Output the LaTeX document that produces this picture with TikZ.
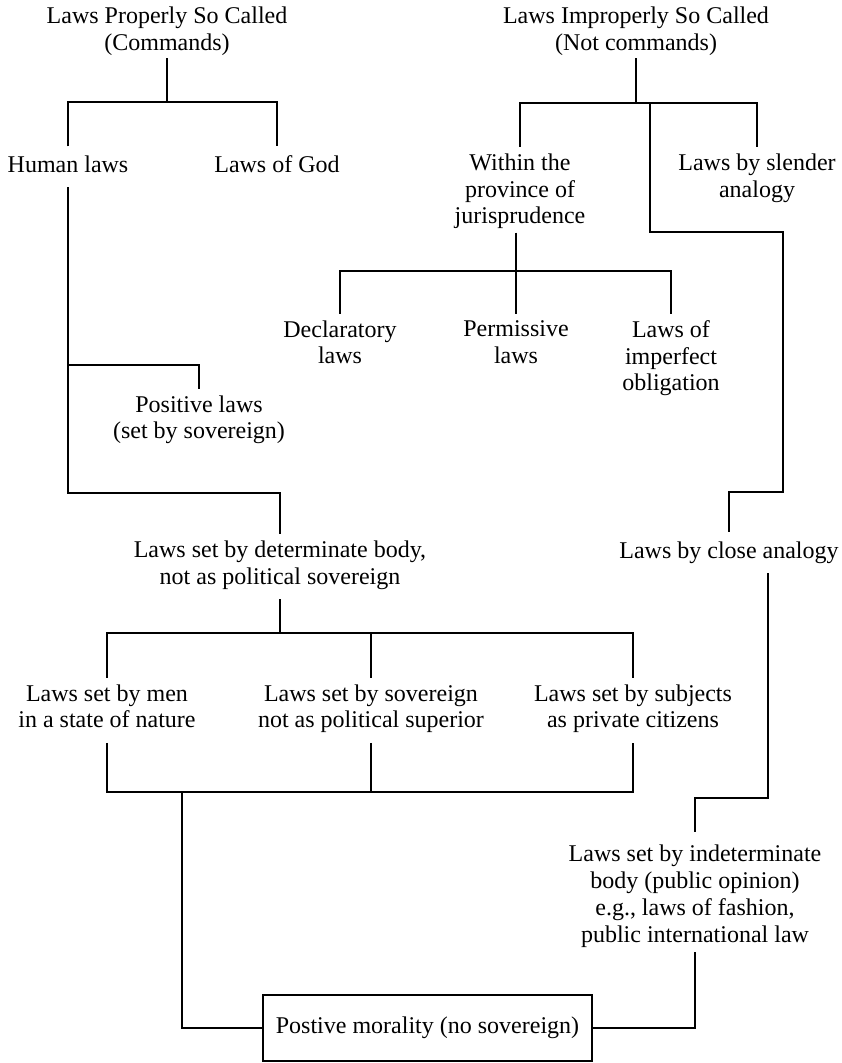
\documentclass[tikz,border=0pt]{standalone}
\usepackage{fontspec}
\setmainfont{Liberation Serif}
\begin{document}
\begin{tikzpicture}[x=1pt,y=-1pt,line width=1.2pt,
  lbl/.style={align=center,inner sep=0pt,outer xsep=0pt,outer ysep=7pt,
    font=\fontsize{24}{26.7}\selectfont,
    execute at begin node=\strut,execute at end node=\strut},
  boxnode/.style={lbl,draw,outer sep=0pt,minimum width=329pt,minimum height=66pt}]
\useasboundingbox (0,0) rectangle (841,1063);
% nodes
\node[lbl,outer ysep=0pt] (psc) at (167,32.7) {Laws Properly So Called\\(Commands)};
\node[lbl,outer ysep=0pt] (isc) at (636,32.7) {Laws Improperly So Called\\(Not commands)};
\node[lbl] (hl)  at (68,166.7)  {Human laws};
\node[lbl] (lg)  at (277,166.7) {Laws of God};
\node[lbl] (wj)  at (520,192.7) {Within the\\province of\\jurisprudence};
\node[lbl] (lsa) at (757,179.7) {Laws by slender\\analogy};
\node[lbl] (dl)  at (340,346.2) {Declaratory\\laws};
\node[lbl] (pl)  at (516,346.2) {Permissive\\laws};
\node[lbl] (lio) at (671,359.7) {Laws of\\imperfect\\obligation};
\node[lbl] (pos) at (199,421.2) {Positive laws\\(set by sovereign)};
\node[lbl] (db)  at (280,566.7) {Laws set by determinate body,\\not as political sovereign};
\node[lbl] (ca)  at (729,552.7) {Laws by close analogy};
\node[lbl] (men) at (107,710.2) {Laws set by men\\in a state of nature};
\node[lbl] (sov) at (371,710.2) {Laws set by sovereign\\not as political superior};
\node[lbl] (sub) at (633,710.2) {Laws set by subjects\\as private citizens};
\node[lbl] (ind) at (695,897.7) {Laws set by indeterminate\\body (public opinion)\\e.g., laws of fashion,\\public international law};
\node[boxnode] (pm) at (427.5,1028) {Postive morality (no sovereign)};
% junction coordinates
\coordinate (b1) at (167,102);
\coordinate (b2) at (636,103);
\coordinate (r1) at (650,103);
\coordinate (r2) at (783,232);
\coordinate (r3) at (783,492);
\coordinate (b3) at (516,271);
\coordinate (h1) at (68,365);
\coordinate (h2) at (68,493);
\coordinate (b4) at (280,633);
\coordinate (b5) at (182,792);
\coordinate (c1) at (768,798);
% connectors
\draw (psc.south) -- (b1);
\draw (hl.north) |- (lg.north |- b1) -- (lg.north);
\draw (isc.south) -- (b2);
\draw (wj.north) |- (lsa.north |- b2) -- (lsa.north);
\draw (r1) |- (r2) -- (r3) -| (ca.north);
\draw[shorten <=-6pt] (pl.north |- wj.south) -- (pl.north);
\draw (dl.north) |- (lio.north |- b3) -- (lio.north);
\draw (hl.south) -- (h2) -| (db.north);
\draw (h1) -| (pos.north);
\draw (db.south) -- (b4);
\draw (men.north) |- (sub.north |- b4) -- (sub.north);
\draw (sov.north) -- (sov.north |- b4);
\draw (men.south) |- (sub.south |- b5) -- (sub.south);
\draw (sov.south) -- (sov.south |- b5);
\draw (b5) |- (pm.west);
\draw[shorten >=6pt] (c1 |- ca.south) -- (c1) -| (ind.north);
\draw[shorten <=-5pt] (ind.south) |- (pm.east);
\end{tikzpicture}
\end{document}
